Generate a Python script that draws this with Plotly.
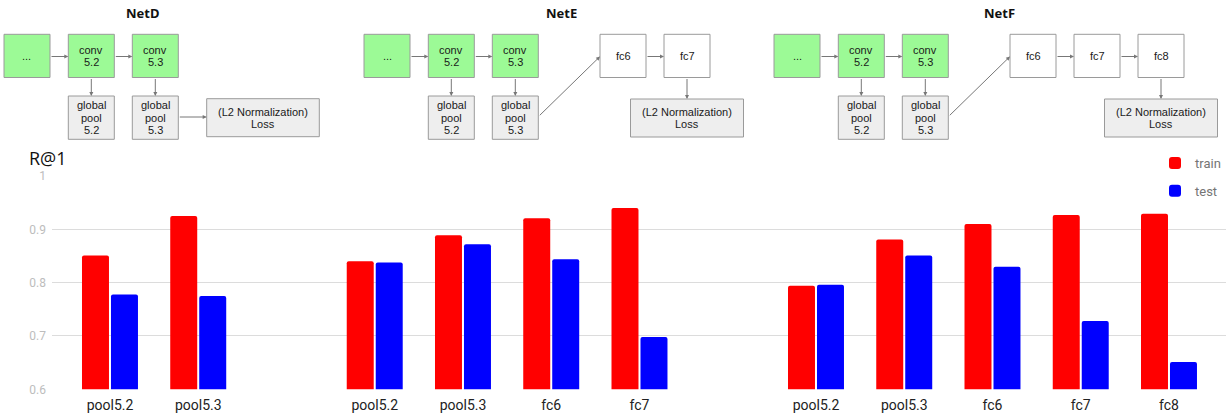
import plotly.graph_objects as go

# ---------------- data ----------------
networks = ["NetD", "NetE", "NetF"]
layers_netd = ["pool5.2", "pool5.3"]
layers_nete = ["pool5.2", "pool5.3", "fc6", "fc7"]
layers_netf = ["pool5.2", "pool5.3", "fc6", "fc7", "fc8"]
train_netd = [0.851, 0.925]
test_netd = [0.778, 0.775]
train_nete = [0.840, 0.889, 0.921, 0.940]
test_nete = [0.838, 0.872, 0.844, 0.698]
train_netf = [0.794, 0.881, 0.910, 0.927, 0.929]
test_netf = [0.796, 0.851, 0.830, 0.728, 0.651]
series_names = ["train", "test"]
y_ticks = [0.6, 0.7, 0.8, 0.9, 1.0]

W, H = 1231, 417


def px(x):
    return x / W


def py(y):
    return 1 - y / H


# build slot positions: one empty slot between networks
all_layers = [layers_netd, layers_nete, layers_netf]
all_train = [train_netd, train_nete, train_netf]
all_test = [test_netd, test_nete, test_netf]
xs, labels, tr, te = [], [], [], []
slot = 0
for layers, a, b in zip(all_layers, all_train, all_test):
    for lab, va, vb in zip(layers, a, b):
        xs.append(slot)
        labels.append(lab)
        tr.append(va)
        te.append(vb)
        slot += 1
    slot += 1

fig = go.Figure()
fig.add_trace(go.Bar(x=xs, y=tr, name=series_names[0], marker=dict(color="#ff0000", line=dict(width=0), cornerradius=2),
                     legendgroup="a"))
fig.add_trace(go.Bar(x=xs, y=te, name=series_names[1], marker=dict(color="#0000ff", line=dict(width=0), cornerradius=2),
                     legendgroup="b"))

shapes = []
annotations = []

GREEN = "#9cfa96"
GRAY = "#eeeeee"
WHITE = "#ffffff"
BORDER = "#9a9a9a"
ARROW = "#777777"
TXT = "#1a1a1a"
BOX_FONT = dict(family="Liberation Sans, Arial", size=11, color=TXT)


def box(x0, x1, y0, y1, fill, lines):
    shapes.append(dict(type="rect", xref="paper", yref="paper",
                       x0=px(x0), x1=px(x1), y0=py(y1), y1=py(y0),
                       fillcolor=fill, line=dict(color=BORDER, width=1), layer="above"))
    cx = (x0 + x1) / 2
    cy = (y0 + y1) / 2
    n = len(lines)
    sp = 12.3
    for i, t in enumerate(lines):
        yy = cy + (i - (n - 1) / 2) * sp
        annotations.append(dict(text=t, x=px(cx), y=py(yy), xref="paper", yref="paper",
                                showarrow=False, xanchor="center", yanchor="middle", font=BOX_FONT))


def arrow(x0, y0, x1, y1):
    annotations.append(dict(text="", x=px(x1), y=py(y1), xref="paper", yref="paper",
                            ax=x0 - x1, ay=y0 - y1, axref="pixel", ayref="pixel",
                            showarrow=True, arrowhead=2, arrowsize=0.8, arrowwidth=1,
                            arrowcolor=ARROW, standoff=0, startstandoff=0))


def net(off, n_fc, title, title_x):
    BW = 46
    top0, top1 = 34.3, 77.5
    gp0, gp1 = 96, 139.3
    dots = off
    c52 = off + 64.3
    c53 = off + 128.3
    box(dots, dots + BW, top0, top1, GREEN, ["..."])
    box(c52, c52 + BW, top0, top1, GREEN, ["conv", "5.2"])
    box(c53, c53 + BW, top0, top1, GREEN, ["conv", "5.3"])
    box(c52, c52 + BW, gp0, gp1, GRAY, ["global", "pool", "5.2"])
    box(c53, c53 + BW, gp0, gp1, GRAY, ["global", "pool", "5.3"])
    ym = 56.5
    arrow(dots + BW, ym, c52, ym)
    arrow(c52 + BW, ym, c53, ym)
    arrow(c52 + BW / 2, top1, c52 + BW / 2, gp0)
    arrow(c53 + BW / 2, top1, c53 + BW / 2, gp0)
    if n_fc == 0:
        lx0 = off + 202.7
        box(lx0, lx0 + 112.6, 98.7, 136.7, GRAY, ["(L2 Normalization)", "Loss"])
        arrow(c53 + BW, 117, lx0, 117)
    else:
        fcs = [off + 236 + 64 * i for i in range(n_fc)]
        for i, f in enumerate(fcs):
            box(f, f + BW, top0, top1, WHITE, ["fc%d" % (6 + i)])
            if i > 0:
                arrow(fcs[i - 1] + BW, ym, f, ym)
        arrow(c53 + BW, 116.7, fcs[0], ym)
        last_c = fcs[-1] + BW / 2
        box(last_c - 56.5, last_c + 56.5, 99, 137, GRAY, ["(L2 Normalization)", "Loss"])
        arrow(last_c, top1, last_c, 99)
    annotations.append(dict(text="<b>%s</b>" % title, x=px(title_x), y=py(13), xref="paper", yref="paper",
                            showarrow=False, xanchor="center", yanchor="middle",
                            font=dict(family="Noto Sans, Open Sans", size=13, color="#111111")))


net(4, 0, networks[0], 143)
net(364, 2, networks[1], 561.7)
net(774, 3, networks[2], 1000)

annotations.append(dict(text="R@1", x=px(27), y=py(157.5), xref="paper", yref="paper",
                        showarrow=False, xanchor="left", yanchor="middle",
                        font=dict(family="Open Sans", size=18, color="#111111")))

fig.update_layout(
    template="none",
    width=W, height=H, autosize=False,
    margin=dict(l=0, r=0, t=0, b=0, pad=0),
    paper_bgcolor="white", plot_bgcolor="white",
    barmode="group", bargap=0.343, bargroupgap=0.069,
    shapes=shapes, annotations=annotations,
    showlegend=True,
    legend=dict(x=px(1155), y=py(148), xanchor="left", yanchor="top",
                bgcolor="white", borderwidth=0, tracegroupgap=8, itemwidth=30,
                font=dict(family="Roboto", size=13, color="#757575")),
    xaxis=dict(domain=[px(52), px(1226)], range=[-0.657, 12.646], automargin=False,
               tickmode="array", tickvals=xs, ticktext=labels,
               showgrid=False, zeroline=False, showline=False, ticks="",
               ticklabelstandoff=6,
               tickfont=dict(family="Roboto", size=14, color="#222222")),
    yaxis=dict(domain=[py(389.3), py(176)], range=[0.6, 1.0], automargin=False,
               tickmode="array", tickvals=y_ticks, ticktext=["0.6", "0.7", "0.8", "0.9", "1"],
               showgrid=True, gridcolor="#dcdcdc", gridwidth=1.3,
               zeroline=False, showline=False, ticks="", ticklabelstandoff=5,
               tickfont=dict(family="Roboto", size=12, color="#bdbdbd")),
)

fig.write_html("out.html", config={"displayModeBar": False},
               post_script="document.body.style.margin='0';document.body.style.padding='0';document.body.style.overflow='hidden';")
